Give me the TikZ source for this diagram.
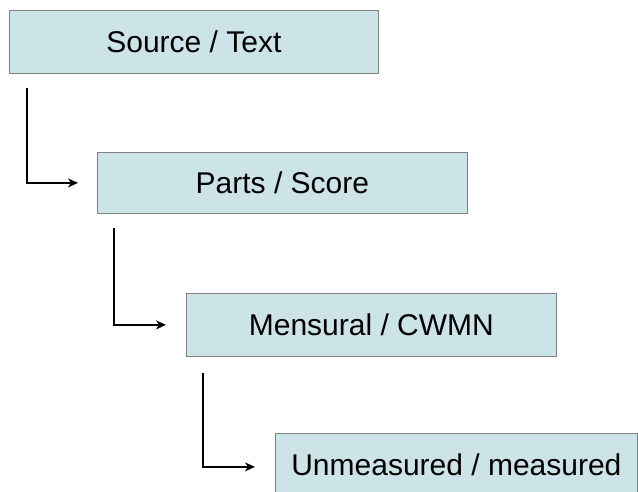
\documentclass[tikz,border=0pt]{standalone}
\usepackage{fontspec}
\setmainfont{Liberation Sans}
\usetikzlibrary{arrows.meta}
\definecolor{boxcyan}{RGB}{204,228,232}
\tikzset{
  level/.style={draw=gray,fill=boxcyan,line width=0.8pt,anchor=north west,inner xsep=0pt,inner ysep=21pt,
    text height=21pt,text depth=0pt,minimum width=370pt,font=\fontsize{30}{36}\selectfont},
  link/.style={line width=2.2pt,-{Stealth[length=10pt,width=9pt,inset=3pt]}}
}
\begin{document}
\begin{tikzpicture}[x=1pt,y=-1pt]
\useasboundingbox (0,0) rectangle (638,492);

\node[level,minimum width=369pt] (source) at (9,10) {Source / Text};
\node[level,inner ysep=20pt] (parts) at (97,152) {Parts / Score};
\node[level] (mensural) at (186,293) {Mensural / CWMN};
\node[level,minimum width=362pt] (unmeasured) at (275,433) {Unmeasured / measured};

\draw[link] ([xshift=18pt,yshift=-14pt]source.south west) |- ([xshift=-19pt]parts.west);
\draw[link] ([xshift=17pt,yshift=-14pt]parts.south west) |- ([xshift=-20pt]mensural.west);
\draw[link] ([xshift=17pt,yshift=-16pt]mensural.south west) |- ([xshift=-20pt,yshift=-2pt]unmeasured.west);

\end{tikzpicture}
\end{document}
